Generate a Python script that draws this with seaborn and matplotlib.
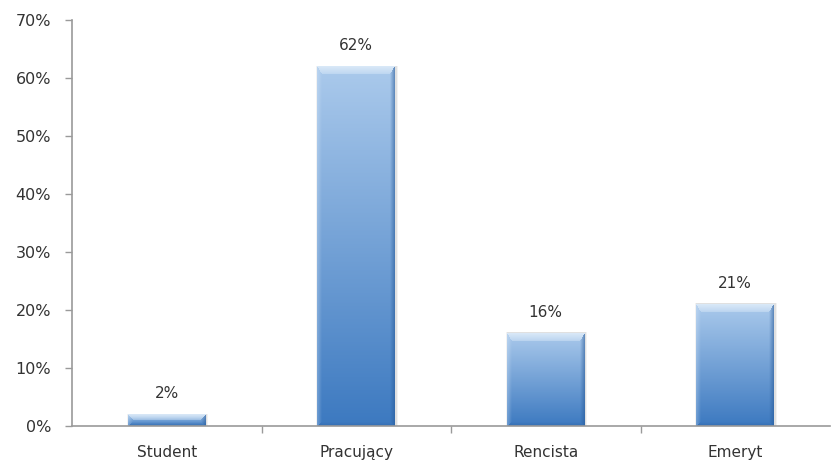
import numpy as np
import pandas as pd
import matplotlib
matplotlib.use("Agg")
import matplotlib.pyplot as plt
import seaborn as sns
from matplotlib.colors import to_rgb
from matplotlib.ticker import FixedLocator, PercentFormatter

categories = ["Student", "Pracujący", "Rencista", "Emeryt"]
shares = [2, 62, 16, 21]
y_ticks = [0, 10, 20, 30, 40, 50, 60, 70]

df = pd.DataFrame({"status": categories, "share": shares})

sns.set_theme(style="white")
plt.rcParams["font.family"] = ["DejaVu Sans"]
text_color = "#333333"
axis_color = "#9a9a9a"

fig = plt.figure(figsize=(8.31, 4.63), dpi=100)
ax = fig.add_axes([72 / 831, 1 - 426 / 463, (830 - 72) / 831, (426 - 20) / 463])

sns.barplot(data=df, x="status", y="share", ax=ax, color="#5b8fd0",
            width=0.41, saturation=1, edgecolor="none")

ax.set_ylim(0, 70)
ax.set_xlim(-0.5, len(categories) - 0.5)


def bevel_image(w, h, top, bottom, bt=8.0, bs=5.0, bb=4.0):
    """Vertical gradient with a bevelled rim: light top, soft left, dark right/bottom."""
    top = np.array(to_rgb(top))
    bottom = np.array(to_rgb(bottom))
    i = np.arange(h)[:, None] * np.ones((1, w)) + 0.5
    j = np.ones((h, 1)) * np.arange(w)[None, :] + 0.5
    t = (i / h)[..., None]
    img = top * (1 - t) + bottom * t
    bt_eff = min(bt, h / 2)
    bb_eff = min(bb, h / 2)
    dists = np.stack([i / bt_eff, j / bs, (w - j) / bs, (h - i) / bb_eff])
    m = dists.min(axis=0)
    which = dists.argmin(axis=0)
    inside = m < 1
    k = np.clip(1 - m, 0, 1)[..., None]
    light = np.array(to_rgb("#e6f1fb"))
    dark = np.array(to_rgb("#285a98"))
    out = img.copy()
    out = np.where(((which == 0) & inside)[..., None],
                   img * (1 - 0.35 - 0.45 * k) + light * (0.35 + 0.45 * k), out)
    out = np.where(((which == 1) & inside)[..., None],
                   img * (1 - 0.3 * k) + light * 0.3 * k, out)
    out = np.where(((which == 2) & inside)[..., None],
                   img * (1 - 0.6 * k) + dark * 0.6 * k, out)
    out = np.where(((which == 3) & inside)[..., None],
                   img * (1 - 0.35 * k) + dark * 0.35 * k, out)
    return np.clip(out, 0, 1)


fig.canvas.draw()
for patch, val in zip(ax.patches, shares):
    x0, y0 = patch.get_x(), patch.get_y()
    w, h = patch.get_width(), patch.get_height()
    p0 = ax.transData.transform((x0, y0))
    p1 = ax.transData.transform((x0 + w, y0 + h))
    wpx = max(int(round(p1[0] - p0[0])), 2)
    hpx = max(int(round(p1[1] - p0[1])), 2)
    # soft halo behind the bar
    for grow, alpha in [(0.020, 0.05), (0.010, 0.07)]:
        ax.bar(x0 + w / 2 + 0.004, h + 0.15, width=w + grow, bottom=y0,
               color="#000000", alpha=alpha, zorder=1.5, linewidth=0)
    img = bevel_image(wpx, hpx, "#abcaec", "#3c79c0")
    ax.imshow(img, extent=(x0, x0 + w, y0, y0 + h), aspect="auto",
              origin="upper", zorder=2, interpolation="bilinear")
    patch.set_visible(False)
    ax.text(x0 + w / 2, val + 2.3, f"{val}%", ha="center", va="bottom",
            fontsize=11, color=text_color)

ax.set_xlim(-0.5, len(categories) - 0.5)
ax.set_ylim(0, 70)

ax.yaxis.set_major_locator(FixedLocator(y_ticks))
ax.yaxis.set_major_formatter(PercentFormatter(decimals=0))
ax.tick_params(axis="y", left=True, length=5, width=1, color=axis_color,
               labelsize=11.5, labelcolor=text_color, pad=10)
ax.set_xticks(range(len(categories)))
ax.set_xticklabels(categories)
ax.set_xticks(np.arange(0.5, len(categories) - 0.5, 1), minor=True)
ax.tick_params(axis="x", which="major", bottom=False, length=0,
               labelsize=11, labelcolor=text_color, pad=14)
ax.tick_params(axis="x", which="minor", bottom=True, length=5, width=1,
               color=axis_color)

for side in ["top", "right"]:
    ax.spines[side].set_visible(False)
for side in ["left", "bottom"]:
    ax.spines[side].set_color(axis_color)
    ax.spines[side].set_linewidth(1.2)
ax.set_xlabel("")
ax.set_ylabel("")
ax.grid(False)

fig.savefig("out.png", dpi=100, facecolor="white")
